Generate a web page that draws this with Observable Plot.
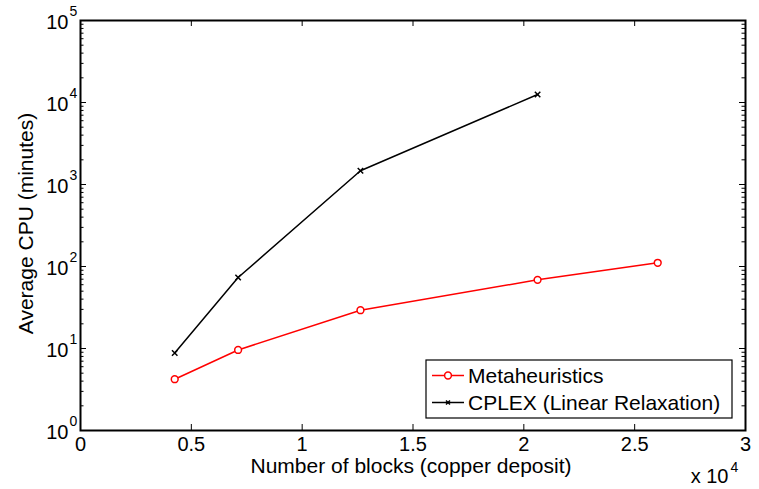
<!DOCTYPE html>
<html>
<head>
<meta charset="utf-8">
<script src="https://cdn.jsdelivr.net/npm/d3@7"></script>
<script src="https://cdn.jsdelivr.net/npm/@observablehq/plot@0.6"></script>
<style>
  html, body { margin: 0; padding: 0; background: #fff; }
  #chart svg { display: block; }
</style>
</head>
<body>
<div id="chart"></div>
<script>
// Average CPU time versus number of blocks (copper deposit)
const metaBlocks = [4250, 7110, 12630, 20620, 26040];
const metaCpu    = [4.22, 9.6, 29.3, 68.8, 111];
const cplexBlocks = [4250, 7110, 12630, 20620];
const cplexCpu    = [8.8, 73.4, 1470, 12500];

const seriesNames   = ["Metaheuristics", "CPLEX (Linear Relaxation)"];
const seriesColors  = ["#ff0000", "#000000"];
const seriesSymbols = ["circle", "times"];

const xTicks = [0, 5000, 10000, 15000, 20000, 25000, 30000];
const yExponents = [0, 1, 2, 3, 4, 5];
const yMajor = yExponents.map(e => 10 ** e);
const yMinor = yExponents.slice(0, -1).flatMap(e => d3.range(2, 10).map(m => m * 10 ** e));

const xLabel = "Number of blocks (copper deposit)";
const yLabel = "Average CPU (minutes)";

const W = 759, H = 489;
const M = {top: 20, right: 14, bottom: 59, left: 80};
const innerW = W - M.left - M.right;
const innerH = H - M.top - M.bottom;
const major = 6, minor = 3.5;
const FONT = 21;

const meta = metaBlocks.map((b, i) => ({blocks: b, cpu: metaCpu[i]}));
const cplex = cplexBlocks.map((b, i) => ({blocks: b, cpu: cplexCpu[i]}));

// legend box drawn inside the lower-right corner of the axes
function legend(index, scales, values, dims) {
  const g = d3.create("svg:g");
  const x0 = 426, y0 = 360, w = 306, h = 58;
  g.append("rect").attr("x", x0).attr("y", y0).attr("width", w).attr("height", h)
    .attr("fill", "white").attr("stroke", "black").attr("stroke-width", 1.2);
  seriesNames.forEach((name, i) => {
    const cy = y0 + 15.5 + i * 27;
    g.append("line").attr("x1", x0 + 6).attr("x2", x0 + 38).attr("y1", cy).attr("y2", cy)
      .attr("stroke", seriesColors[i]).attr("stroke-width", 1.5);
    if (seriesSymbols[i] === "circle") {
      g.append("circle").attr("cx", x0 + 22).attr("cy", cy).attr("r", 3.4)
        .attr("fill", "white").attr("stroke", seriesColors[i]).attr("stroke-width", 1.5);
    } else {
      g.append("path").attr("d", `M${x0 + 20},${cy - 2}l4,4M${x0 + 20},${cy + 2}l4,-4`)
        .attr("stroke", seriesColors[i]).attr("stroke-width", 1.5);
    }
    g.append("text").attr("x", x0 + 42).attr("y", cy).attr("dy", "0.35em")
      .attr("text-anchor", "start").attr("font-size", FONT).attr("fill", "black").text(name);
  });
  return g.node();
}

const chart = Plot.plot({
  width: W,
  height: H,
  marginTop: M.top,
  marginRight: M.right,
  marginBottom: M.bottom,
  marginLeft: M.left,
  style: {fontFamily: "'Liberation Sans', Arial, Helvetica, sans-serif", fontSize: FONT + "px", background: "white", color: "black"},
  x: {domain: [0, 30000], axis: null},
  y: {type: "log", domain: [1, 1e5], axis: null},
  marks: [
    // inward tick marks on all four sides
    Plot.tickX(xTicks, {x: d => d, insetTop: innerH - major, stroke: "black"}),
    Plot.tickX(xTicks, {x: d => d, insetBottom: innerH - major, stroke: "black"}),
    Plot.tickY(yMajor, {y: d => d, insetRight: innerW - major, stroke: "black"}),
    Plot.tickY(yMajor, {y: d => d, insetLeft: innerW - major, stroke: "black"}),
    Plot.tickY(yMinor, {y: d => d, insetRight: innerW - minor, stroke: "black"}),
    Plot.tickY(yMinor, {y: d => d, insetLeft: innerW - minor, stroke: "black"}),

    // x tick labels in units of 10^4
    Plot.text(xTicks, {x: d => d, text: d => String(d / 1e4), frameAnchor: "bottom", textAnchor: "middle", dy: 14, fontSize: 20, lineAnchor: "middle"}),
    Plot.text(["x 10"], {frameAnchor: "bottom-right", textAnchor: "end", dx: -17, dy: 46, fontSize: 20, lineAnchor: "middle"}),
    Plot.text(["4"], {frameAnchor: "bottom-right", textAnchor: "start", dx: -15, dy: 37, fontSize: 14, lineAnchor: "middle"}),

    // y tick labels as powers of ten
    Plot.text(yMajor, {y: d => d, text: () => "10", frameAnchor: "left", textAnchor: "end", dx: -12, dy: 2, fontSize: 20, lineAnchor: "middle"}),
    Plot.text(yExponents, {y: e => 10 ** e, text: e => String(e), frameAnchor: "left", textAnchor: "start", dx: -11, dy: -9, fontSize: 14, lineAnchor: "middle"}),

    // axis titles
    Plot.text([xLabel], {frameAnchor: "bottom", textAnchor: "middle", dx: -2, dy: 36, lineAnchor: "middle"}),
    Plot.text([yLabel], {frameAnchor: "left", textAnchor: "middle", dx: -54, dy: -2, rotate: -90, lineAnchor: "middle"}),

    // series
    Plot.line(meta, {x: "blocks", y: "cpu", stroke: seriesColors[0], strokeWidth: 1.5}),
    Plot.dot(meta, {x: "blocks", y: "cpu", r: 3.4, stroke: seriesColors[0], fill: "white", strokeWidth: 1.5}),
    Plot.line(cplex, {x: "blocks", y: "cpu", stroke: seriesColors[1], strokeWidth: 1.5}),
    Plot.dot(cplex, {x: "blocks", y: "cpu", symbol: "times", r: 2.6, stroke: seriesColors[1], strokeWidth: 1.5}),

    Plot.frame({stroke: "black", strokeWidth: 2}),
    legend
  ]
});

document.getElementById("chart").appendChild(chart);
</script>
</body>
</html>
